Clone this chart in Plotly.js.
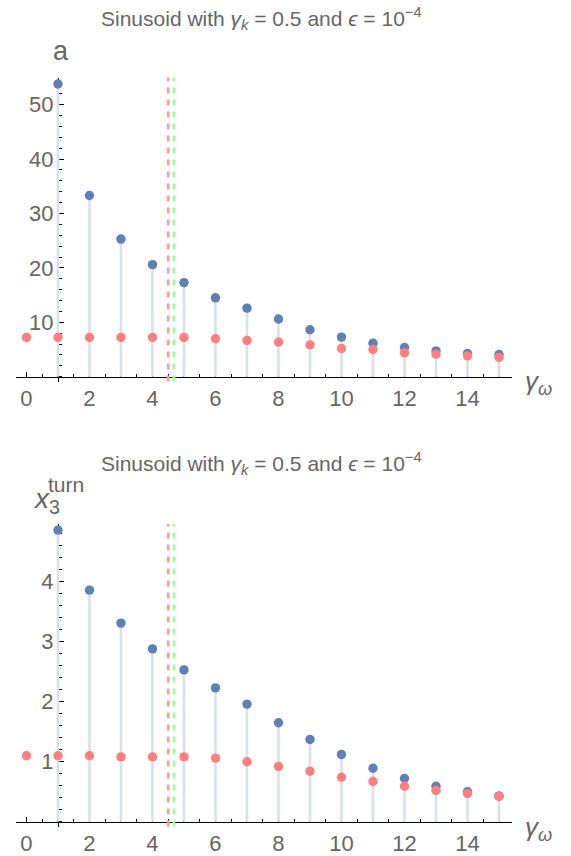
<!DOCTYPE html>
<html><head><meta charset="utf-8">
<script src="https://cdn.plot.ly/plotly-3.0.1.min.js"></script>
<style>html,body{margin:0;padding:0;background:#fff}</style>
</head><body><div id="chart" style="width:571px;height:856px"></div>
<script>
// ---- data ----
const omegaAll = [0,1,2,3,4,5,6,7,8,9,10,11,12,13,14,15];
const omegaBlue = [1,2,3,4,5,6,7,8,9,10,11,12,13,14,15];
const aBlue = [53.8,33.3,25.3,20.6,17.3,14.5,12.6,10.6,8.64,7.28,6.17,5.37,4.75,4.26,4.07];
const aRed  = [7.22,7.22,7.22,7.22,7.22,7.22,6.98,6.67,6.36,5.86,5.19,5.0,4.38,4.14,3.83,3.52];
const xBlue = [4.86,3.86,3.31,2.88,2.53,2.23,1.96,1.65,1.37,1.12,0.89,0.72,0.59,0.50,0.43];
const xRed  = [1.10,1.10,1.10,1.08,1.08,1.08,1.06,1.00,0.92,0.84,0.74,0.67,0.59,0.52,0.47,0.42];
const thresholds = [4.5, 4.68];
const xTickVals = [0,2,4,6,8,10,12,14];
const aTickVals = [10,20,30,40,50];
const x3TickVals = [1,2,3,4];
const titleText = 'Sinusoid with <i>γ</i><sub><i>k</i></sub> = 0.5 and <i>ϵ</i> = 10<sup>−4</sup>';

// ---- geometry ----
const W = 571, H = 856;
const xRange = [-0.32, 15.4];
const xDom = [16.4/W, 511.6/W];
const yTopRange = [-0.9, 55], yTopDom = [1-381.6/H, 1-77.5/H];
const yBotRange = [-0.08, 4.96], yBotDom = [1-826.5/H, 1-524.1/H];
function frac(v, r, d){ return d[0] + (v - r[0])/(r[1]-r[0])*(d[1]-d[0]); }

const cBlue = '#5E81B5', cRed = '#FF7F7F', cStem = '#D9E0EC';
const cDashR = '#FF9C9C', cDashG = '#9CFF9C';
const textCol = '#666666';
const fam = 'Liberation Sans, Arial, sans-serif';

function stems(xs, ys, xa, ya){
  const sx=[], sy=[];
  xs.forEach((x,i)=>{ sx.push(x,x,null); sy.push(0,ys[i],null); });
  return {x:sx, y:sy, xaxis:xa, yaxis:ya, mode:'lines', line:{color:cStem, width:2.6}, hoverinfo:'skip', showlegend:false};
}
function pts(xs, ys, col, xa, ya){
  return {x:xs, y:ys, xaxis:xa, yaxis:ya, mode:'markers', marker:{color:col, size:9.4}, cliponaxis:false, showlegend:false};
}

const data = [
  stems(omegaBlue, aBlue, 'x', 'y'),
  pts(omegaBlue, aBlue, cBlue, 'x', 'y'),
  pts(omegaAll, aRed, cRed, 'x', 'y'),
  stems(omegaBlue, xBlue, 'x2', 'y2'),
  pts(omegaBlue, xBlue, cBlue, 'x2', 'y2'),
  pts(omegaAll, xRed, cRed, 'x2', 'y2')
];

const tickFont = {family:fam, size:22, color:textCol};
function xax(yr, yd){
  return {domain:xDom, range:xRange, anchor:'free', position:frac(0, yr, yd),
    showline:true, linecolor:'#000', linewidth:1.1, showgrid:false, zeroline:false,
    tickmode:'array', tickvals:xTickVals, ticks:'inside', ticklen:5, tickwidth:1, tickcolor:'#000',
    minor:{tickmode:'linear', tick0:0, dtick:0.5, ticks:'inside', ticklen:3, tickwidth:1, tickcolor:'#000'},
    tickfont:tickFont, ticklabelstandoff:2, layer:'below traces', fixedrange:true};
}
function yax(yr, yd, tv, mdt){
  return {domain:yd, range:yr, anchor:'free', position:frac(1, xRange, xDom),
    showline:true, linecolor:'#000', linewidth:1.1, showgrid:false, zeroline:false,
    tickmode:'array', tickvals:tv, ticks:'inside', ticklen:5, tickwidth:1, tickcolor:'#000',
    minor:{tickmode:'linear', tick0:0, dtick:mdt, ticks:'inside', ticklen:3, tickwidth:1, tickcolor:'#000'},
    tickfont:tickFont, layer:'below traces', fixedrange:true};
}

const shapes = [];
[['x','y'],['x2','y2']].forEach(([xa,ya])=>{
  thresholds.forEach((t,i)=>{
    shapes.push({type:'line', xref:xa, yref:ya+' domain', x0:t, x1:t, y0:0, y1:1,
      line:{color: i===0?cDashR:cDashG, width:2.8, dash:'6px,6px'}, layer:'above'});
  });
});

function ann(text, px, py, size, xa, ya){
  return {text:text, xref:'paper', yref:'paper', x:px/W, y:1-py/H, xanchor:xa||'center', yanchor:ya||'middle',
    showarrow:false, font:{family:fam, size:size, color:textCol}};
}
const annotations = [
  ann(titleText, 261, 19, 21),
  ann(titleText, 261, 464, 21),
  ann('a', 61, 51, 27),
  ann('<i>γ</i><sub><i>ω</i></sub>', 538, 382, 26),
  ann('<i>γ</i><sub><i>ω</i></sub>', 538, 828, 26),
  ann('<i>x</i><sub>3</sub>', 31, 500, 28, 'left'),
  ann('turn', 46, 485, 21, 'left')
];

const layout = {
  width:W, height:H, margin:{l:0,r:0,t:0,b:0}, paper_bgcolor:'#fff', plot_bgcolor:'rgba(0,0,0,0)',
  showlegend:false, hovermode:false,
  xaxis: xax(yTopRange, yTopDom),
  yaxis: yax(yTopRange, yTopDom, aTickVals, 2),
  xaxis2: xax(yBotRange, yBotDom),
  yaxis2: yax(yBotRange, yBotDom, x3TickVals, 0.2),
  shapes: shapes, annotations: annotations
};

Plotly.newPlot('chart', data, layout, {displayModeBar:false, staticPlot:true});
</script></body></html>
